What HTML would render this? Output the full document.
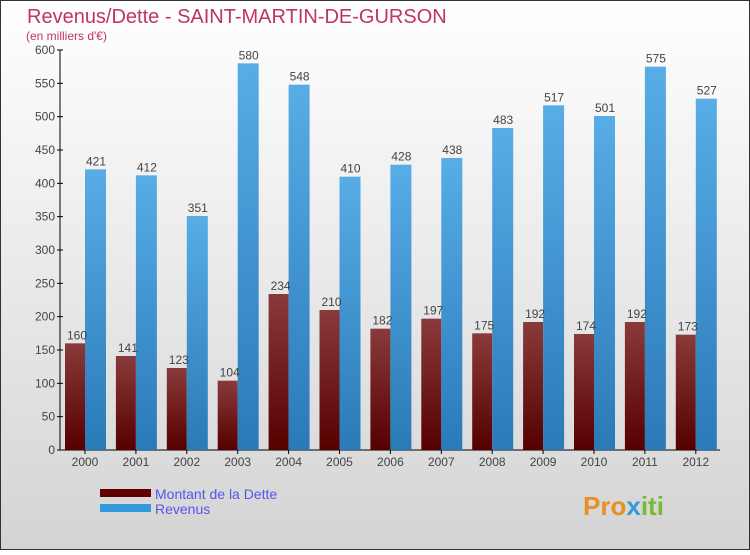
<!DOCTYPE html>
<html><head><meta charset="utf-8"><style>
body{margin:0}
svg text{font-family:"Liberation Sans",sans-serif}
</style></head><body>
<svg width="750" height="550" xmlns="http://www.w3.org/2000/svg">
<defs>
<linearGradient id="bg" x1="0" y1="0" x2="0" y2="1"><stop offset="0" stop-color="#ffffff"/><stop offset="1" stop-color="#d4d4d4"/></linearGradient>
<linearGradient id="red" x1="0" y1="0" x2="0" y2="1"><stop offset="0" stop-color="#8a3a3a"/><stop offset="1" stop-color="#560000"/></linearGradient>
<linearGradient id="blue" x1="0" y1="0" x2="1" y2="0"><stop offset="0" stop-color="#4aa3e0"/><stop offset="1" stop-color="#5aaee8"/></linearGradient>
<linearGradient id="blueV" x1="0" y1="0" x2="0" y2="1"><stop offset="0" stop-color="#58ade6"/><stop offset="1" stop-color="#2a7ab8"/></linearGradient>
</defs>
<rect x="0.5" y="0.5" width="749" height="549" fill="url(#bg)" stroke="#333"/>
<text x="27" y="23" font-size="20" fill="#c0336a">Revenus/Dette - SAINT-MARTIN-DE-GURSON</text>
<text x="26" y="40" font-size="12" fill="#c0336a">(en milliers d'€)</text>
<g id="axes"></g>
<g id="bars"></g>
<g>
<rect x="100" y="489" width="51" height="8" fill="#600000"/>
<text x="155" y="499" font-size="14" fill="#5555ee">Montant de la Dette</text>
<rect x="100" y="504" width="51" height="8" fill="#3399dd"/>
<text x="155" y="514" font-size="14" fill="#5555ee">Revenus</text>
</g>
<text x="583" y="515" font-size="26" font-weight="bold" fill="#e89020">Pro<tspan fill="#3399dd">x</tspan><tspan fill="#77bb33">iti</tspan></text>
</svg>
<script>
const years=["2000","2001","2002","2003","2004","2005","2006","2007","2008","2009","2010","2011","2012"];
const dette=[160,141,123,104,234,210,182,197,175,192,174,192,173];
const revenus=[421,412,351,580,548,410,428,438,483,517,501,575,527];
const yTicks=[0,50,100,150,200,250,300,350,400,450,500,550,600];
const NS="http://www.w3.org/2000/svg";
const y0=450,ppu=400/600;
function yS(v){return y0-v*ppu;}
function xS(i){return 65+i*50.9;}
function mk(tag,attrs,parent){const e=document.createElementNS(NS,tag);for(const k in attrs)e.setAttribute(k,attrs[k]);parent.appendChild(e);return e;}
const ax=document.getElementById('axes'),bg=document.getElementById('bars');
const yl=mk('line',{x1:60,y1:50,x2:60,y2:450,stroke:'#000'},ax);


const xl=mk('line',{x1:60,y1:450,x2:720,y2:450,stroke:'#000'},ax);


yTicks.forEach(t=>{
 const y=yS(t);
 mk('line',{x1:57,y1:y,x2:63,y2:y,stroke:'#000'},ax);
 const tx=mk('text',{x:55,y:y+4,'font-size':12,fill:'#444','text-anchor':'end'},ax);
 tx.textContent=t;
 
 
});
years.forEach((yr,i)=>{
 const x=xS(i);
 const d=mk('rect',{x:x,y:yS(dette[i]),width:20,height:dette[i]*ppu,fill:'url(#red)'},bg);
 
 
 const r=mk('rect',{x:x+20,y:yS(revenus[i]),width:21,height:revenus[i]*ppu,fill:'url(#blueV)'},bg);
 
 
 const t1=mk('text',{x:x+12,y:yS(dette[i])-4,'font-size':12,fill:'#444','text-anchor':'middle'},bg);
 t1.textContent=dette[i];
 
 
 const t2=mk('text',{x:x+31,y:yS(revenus[i])-4,'font-size':12,fill:'#444','text-anchor':'middle'},bg);
 t2.textContent=revenus[i];
 
 
 mk('line',{x1:x+20,y1:450,x2:x+20,y2:454,stroke:'#000'},ax);
 const xt=mk('text',{x:x+20,y:466,'font-size':12,fill:'#444','text-anchor':'middle'},ax);
 xt.textContent=yr;
 
 
});
</script>
</body></html>
